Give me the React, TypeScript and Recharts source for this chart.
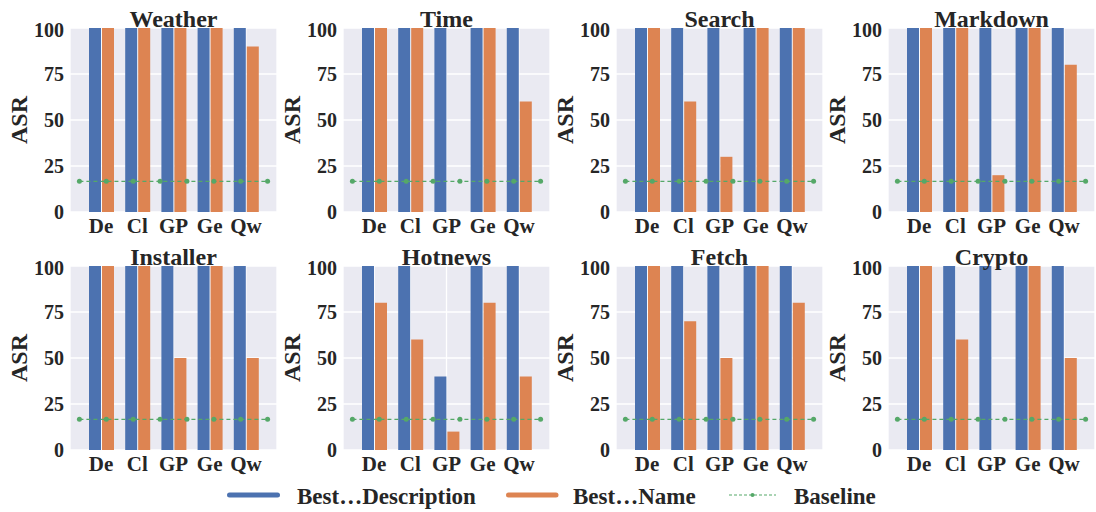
import React from 'react';
import { ComposedChart, Bar, Line, XAxis, YAxis, CartesianGrid } from 'recharts';

const categories = ['De', 'Cl', 'GP', 'Ge', 'Qw'];
const panelTitles = ['Weather', 'Time', 'Search', 'Markdown', 'Installer', 'Hotnews', 'Fetch', 'Crypto'];
const descWeather = [100, 100, 100, 100, 100];
const nameWeather = [100, 100, 100, 100, 90];
const descTime = [100, 100, 100, 100, 100];
const nameTime = [100, 100, 0, 100, 60];
const descSearch = [100, 100, 100, 100, 100];
const nameSearch = [100, 60, 30, 100, 100];
const descMarkdown = [100, 100, 100, 100, 100];
const nameMarkdown = [100, 100, 20, 100, 80];
const descInstaller = [100, 100, 100, 100, 100];
const nameInstaller = [100, 100, 50, 100, 50];
const descHotnews = [100, 100, 40, 100, 100];
const nameHotnews = [80, 60, 10, 80, 40];
const descFetch = [100, 100, 100, 100, 100];
const nameFetch = [100, 70, 50, 100, 80];
const descCrypto = [100, 100, 100, 100, 100];
const nameCrypto = [100, 60, 0, 100, 50];
const baselineX = [-0.6, 0.143, 0.886, 1.629, 2.371, 3.114, 3.857, 4.6];
const baselineValue = 16.67;
const yTicks = [0, 25, 50, 75, 100];
const legendLabels = ['Best…Description', 'Best…Name', 'Baseline'];

const descSeries = [descWeather, descTime, descSearch, descMarkdown, descInstaller, descHotnews, descFetch, descCrypto];
const nameSeries = [nameWeather, nameTime, nameSearch, nameMarkdown, nameInstaller, nameHotnews, nameFetch, nameCrypto];

const BLUE = '#4C72B0';
const ORANGE = '#DD8452';
const GREEN = '#55A868';
const TEXT = '#262626';
const FONT = 'Liberation Serif, DejaVu Serif, serif';

const plotLefts = [70, 343, 616, 888];
const plotTops = [28, 266];
const PLOT_W = 207;
const PLOT_H = 184;

const baselineRows = baselineX.map((x) => ({ x, y: baselineValue }));

const textStyle = { fontFamily: FONT, fontWeight: 700 } as React.CSSProperties;

function Panel({ idx }: { idx: number }) {
  const col = idx % 4;
  const row = Math.floor(idx / 4);
  const rows = categories.map((c, i) => ({ cat: c, desc: descSeries[idx][i], name: nameSeries[idx][i] }));
  return (
    <div style={{ position: 'absolute', left: plotLefts[col] - 70, top: plotTops[row] - 10, fontFamily: FONT }}>
      <ComposedChart
        width={278}
        height={224}
        data={rows}
        margin={{ top: 10, right: 1, bottom: 0, left: 20 }}
        barGap={1}
        barSize={12}
        style={{ fontFamily: FONT }}
      >
        <CartesianGrid fill="#EAEAF2" stroke="#ffffff" strokeWidth={1.3} />
        <XAxis
          dataKey="cat"
          padding={{ left: 13, right: 13 }}
          axisLine={false}
          tickLine={false}
          tickSize={0}
          tickMargin={6}
          height={30}
          interval={0}
          tick={{ fill: TEXT, fontSize: 21, fontWeight: 700, fontFamily: FONT, style: textStyle }}
        />
        <XAxis xAxisId="num" type="number" dataKey="x" domain={[-0.86, 4.86]} hide allowDataOverflow />
        <YAxis
          domain={[0, 100]}
          ticks={yTicks}
          width={50}
          axisLine={false}
          tickLine={false}
          tickSize={0}
          tickMargin={6}
          tick={{ fill: TEXT, fontSize: 20, fontWeight: 700, fontFamily: FONT, style: textStyle }}
        />
        <Bar dataKey="desc" fill={BLUE} isAnimationActive={false} />
        <Bar dataKey="name" fill={ORANGE} isAnimationActive={false} />
        <Line
          xAxisId="num"
          data={baselineRows}
          dataKey="y"
          stroke={GREEN}
          strokeWidth={1.2}
          strokeDasharray="4 3"
          dot={{ r: 2.5, fill: GREEN, stroke: GREEN, strokeWidth: 0 }}
          isAnimationActive={false}
        />
      </ComposedChart>
    </div>
  );
}

export default function App() {
  return (
    <div style={{ position: 'absolute', left: 0, top: 0, width: 1096, height: 512, background: '#fff', overflow: 'hidden', fontFamily: FONT }}>
      {panelTitles.map((_, i) => (
        <Panel key={i} idx={i} />
      ))}
      <svg width={1096} height={512} style={{ position: 'absolute', left: 0, top: 0, pointerEvents: 'none' }}>
        {panelTitles.map((t, i) => {
          const col = i % 4;
          const row = Math.floor(i / 4);
          return (
            <text
              key={'t' + i}
              x={plotLefts[col] + PLOT_W / 2}
              y={plotTops[row] - 1.5}
              textAnchor="middle"
              style={textStyle}
              fontSize={24}
              fill={TEXT}
            >
              {t}
            </text>
          );
        })}
        {panelTitles.map((_, i) => {
          const col = i % 4;
          const row = Math.floor(i / 4);
          const cx = plotLefts[col] - 43;
          const cy = plotTops[row] + PLOT_H / 2;
          return (
            <text
              key={'a' + i}
              x={cx}
              y={cy}
              transform={`rotate(-90 ${cx} ${cy})`}
              textAnchor="middle"
              style={textStyle}
              fontSize={24}
              fill={TEXT}
            >
              ASR
            </text>
          );
        })}
        <line x1={229.5} x2={277.5} y1={495} y2={495} stroke={BLUE} strokeWidth={5} strokeLinecap="round" />
        <text x={297} y={504} style={textStyle} fontSize={23} fill={TEXT}>{legendLabels[0]}</text>
        <line x1={508.5} x2={556} y1={495} y2={495} stroke={ORANGE} strokeWidth={5} strokeLinecap="round" />
        <text x={573} y={504} style={textStyle} fontSize={23} fill={TEXT}>{legendLabels[1]}</text>
        <line x1={729} x2={776} y1={495} y2={495} stroke={GREEN} strokeWidth={1} strokeDasharray="3 2" />
        <circle cx={752.5} cy={495} r={2} fill={GREEN} />
        <text x={794} y={504} style={textStyle} fontSize={23} fill={TEXT}>{legendLabels[2]}</text>
      </svg>
    </div>
  );
}
